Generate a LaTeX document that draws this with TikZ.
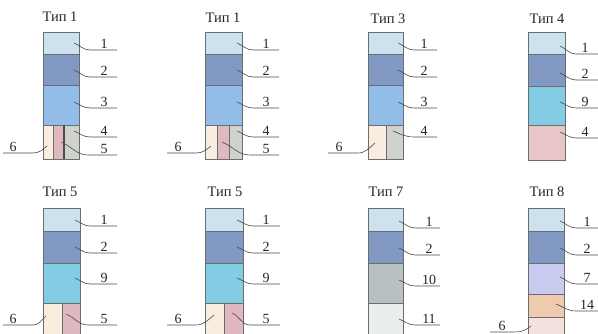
\documentclass[tikz,border=0pt]{standalone}
\usepackage{fontspec}
\setmainfont{Liberation Serif}
\definecolor{cA}{HTML}{CDE2EF}
\definecolor{cB}{HTML}{8299C4}
\definecolor{cC}{HTML}{92BDE8}
\definecolor{cNine}{HTML}{82CDE3}
\definecolor{cPinkF}{HTML}{E8C6C8}
\definecolor{cCream}{HTML}{F8EDDF}
\definecolor{cPink}{HTML}{E0B8C0}
\definecolor{cGrey}{HTML}{CFD3CC}
\definecolor{cTen}{HTML}{B9C0C1}
\definecolor{cEleven}{HTML}{E9EFEB}
\definecolor{cSeven}{HTML}{C8CAF0}
\definecolor{cFourteen}{HTML}{EFCAAE}
\definecolor{cSixE}{HTML}{F2E1DC}
\definecolor{edge}{HTML}{6A6E70}
\definecolor{ink}{HTML}{4A4A4A}
\tikzset{
  lay/.style={draw=edge, line width=0.8pt, inner sep=0pt, outer sep=0pt, anchor=north west},
  num/.style={font=\fontsize{14}{14}\selectfont, text=black!85, inner sep=0pt, anchor=south},
  ttl/.style={font=\fontsize{14.5}{15}\selectfont, text=black!85, inner sep=0pt},
  leader/.style={draw=ink, line width=0.6pt}
}
% layer: name, colour, x, y, width, height
\newcommand\lyr[6]{\node[lay, fill=#2, minimum width=#5pt, minimum height=#6pt] (#1) at (#3,#4) {};}
% leader: name, inner point, bend x, line y, end x, label x, text
\newcommand\ldr[7]{%
  \coordinate (#1i) at #2;
  \coordinate (#1b) at (#3,#4);
  \coordinate (#1e) at (#5,#4);
  \node[num] (#1) at (#6,#4-1.5) {#7};
  \draw[leader] (#1i) to[out=-22,in=180] (#1b) -- (#1e);}
\newcommand\ldl[7]{%
  \coordinate (#1i) at #2;
  \coordinate (#1b) at (#3,#4);
  \coordinate (#1e) at (#5,#4);
  \node[num] (#1) at (#6,#4-1.5) {#7};
  \draw[leader] (#1i) to[out=-140,in=0] (#1b) -- (#1e);}
\begin{document}
\begin{tikzpicture}[x=1pt,y=-1pt]
\useasboundingbox (0,0) rectangle (598,334);
\fill[white] (0,0) rectangle (598,334);
% ---------- column 1 ----------
\node[ttl] (t1) at (60,17) {Тип 1};
\lyr{a1}{cA}{43}{32}{36}{22}
\lyr{a2}{cB}{43}{54}{36}{31}
\lyr{a3}{cC}{43}{85}{36}{40}
\lyr{a6}{cCream}{43}{125}{10}{34}
\lyr{a5}{cPink}{53}{125}{11}{34}
\lyr{a4}{cGrey}{64}{125}{15}{34}
\draw[draw=edge!70!black, line width=1.3pt] (a4.north west) -- (a4.south west);
\ldr{na1}{(74,43)}{90}{50}{117}{104}{1}
\ldr{na2}{(74,70)}{90}{77}{117}{104}{2}
\ldr{na3}{(74,102)}{90}{108}{117}{104}{3}
\ldr{na4}{(74,131)}{90}{137}{117}{104}{4}
\ldr{na5}{(61,142)}{88}{155}{117}{104}{5}
\ldl{na6}{(47,146)}{33}{153}{3}{13}{6}
% ---------- column 2 ----------
\node[ttl] (t2) at (223,18) {Тип 1};
\lyr{b1}{cA}{205}{32}{37}{22}
\lyr{b2}{cB}{205}{54}{37}{31}
\lyr{b3}{cC}{205}{85}{37}{40}
\lyr{b6}{cCream}{205}{125}{12}{34}
\lyr{b5}{cPink}{217}{125}{12}{34}
\lyr{b4}{cGrey}{229}{125}{13}{34}
\ldr{nb1}{(237,43)}{253}{50}{279}{266}{1}
\ldr{nb2}{(237,70)}{253}{77}{279}{266}{2}
\ldr{nb3}{(237,102)}{253}{108}{279}{266}{3}
\ldr{nb4}{(237,131)}{253}{137}{279}{266}{4}
\ldr{nb5}{(222,142)}{250}{155}{279}{266}{5}
\ldl{nb6}{(211,146)}{196}{153}{167}{178}{6}
% ---------- column 3 ----------
\node[ttl] (t3) at (388,19) {Тип 3};
\lyr{c1}{cA}{368}{32}{35}{22}
\lyr{c2}{cB}{368}{54}{35}{31}
\lyr{c3}{cC}{368}{85}{35}{40}
\lyr{c6}{cCream}{368}{125}{18}{34}
\lyr{c4}{cGrey}{386}{125}{17}{34}
\ldr{nc1}{(398,43)}{414}{50}{437}{424}{1}
\ldr{nc2}{(398,70)}{414}{77}{437}{424}{2}
\ldr{nc3}{(398,102)}{414}{108}{437}{424}{3}
\ldr{nc4}{(393,131)}{414}{137}{437}{424}{4}
\ldl{nc6}{(375,143)}{358}{153}{328}{339}{6}
% ---------- column 4 ----------
\node[ttl] (t4) at (547,19) {Тип 4};
\lyr{d1}{cA}{528}{32}{37}{22}
\lyr{d2}{cB}{528}{54}{37}{32}
\lyr{d9}{cNine}{528}{86}{37}{39}
\lyr{d4}{cPinkF}{528}{125}{37}{35}
\ldr{nd1}{(560,46)}{576}{54}{598}{585}{1}
\ldr{nd2}{(560,73)}{576}{80}{598}{585}{2}
\ldr{nd9}{(560,102)}{576}{108}{598}{585}{9}
\ldr{nd4}{(560,132)}{576}{138}{598}{585}{4}
% ---------- column 5 ----------
\node[ttl] (t5) at (60,192) {Тип 5};
\lyr{e1}{cA}{43}{208}{37}{23}
\lyr{e2}{cB}{43}{231}{37}{32}
\lyr{e9}{cNine}{43}{263}{37}{40}
\lyr{e6}{cCream}{43}{303}{19}{40}
\lyr{e5}{cPink}{62}{303}{18}{40}
\ldr{ne1}{(75,220)}{90}{226}{117}{104}{1}
\ldr{ne2}{(75,247)}{90}{253}{117}{104}{2}
\ldr{ne9}{(75,278)}{90}{284}{117}{104}{9}
\ldr{ne5}{(66,314)}{88}{325}{117}{104}{5}
\ldl{ne6}{(46,316)}{33}{325}{3}{13}{6}
% ---------- column 6 ----------
\node[ttl] (t6) at (225,192) {Тип 5};
\lyr{f1}{cA}{205}{208}{38}{23}
\lyr{f2}{cB}{205}{231}{38}{32}
\lyr{f9}{cNine}{205}{263}{38}{40}
\lyr{f6}{cCream}{205}{303}{19}{40}
\lyr{f5}{cPink}{224}{303}{19}{40}
\ldr{nf1}{(237,220)}{253}{226}{280}{266}{1}
\ldr{nf2}{(237,247)}{253}{253}{280}{266}{2}
\ldr{nf9}{(237,278)}{253}{284}{280}{266}{9}
\ldr{nf5}{(232,313)}{250}{325}{280}{266}{5}
\ldl{nf6}{(214,315)}{196}{325}{167}{178}{6}
% ---------- column 7 ----------
\node[ttl] (t7) at (386,192) {Тип 7};
\lyr{g1}{cA}{368}{208}{35}{23}
\lyr{g2}{cB}{368}{231}{35}{32}
\lyr{g10}{cTen}{368}{263}{35}{40}
\lyr{g11}{cEleven}{368}{303}{35}{40}
\ldr{ng1}{(399,221)}{415}{228}{440}{429}{1}
\ldr{ng2}{(399,248)}{415}{255}{440}{429}{2}
\ldr{ng10}{(399,280)}{415}{286}{440}{429}{10}
\ldr{ng11}{(399,319)}{415}{325}{440}{429}{11}
% ---------- column 8 ----------
\node[ttl] (t8) at (547,192) {Тип 8};
\lyr{h1}{cA}{528}{208}{36}{23}
\lyr{h2}{cB}{528}{231}{36}{32}
\lyr{h7}{cSeven}{528}{263}{36}{31}
\lyr{h14}{cFourteen}{528}{294}{36}{23}
\lyr{h6}{cSixE}{528}{317}{36}{26}
\ldr{nh1}{(560,221)}{576}{228}{598}{587}{1}
\ldr{nh2}{(560,248)}{576}{255}{598}{587}{2}
\ldr{nh7}{(560,277)}{576}{284}{598}{587}{7}
\ldr{nh14}{(556,304)}{576}{311}{598}{587}{14}
\ldl{nh6}{(531,326)}{515}{332}{490}{502}{6}
\end{tikzpicture}
\end{document}
